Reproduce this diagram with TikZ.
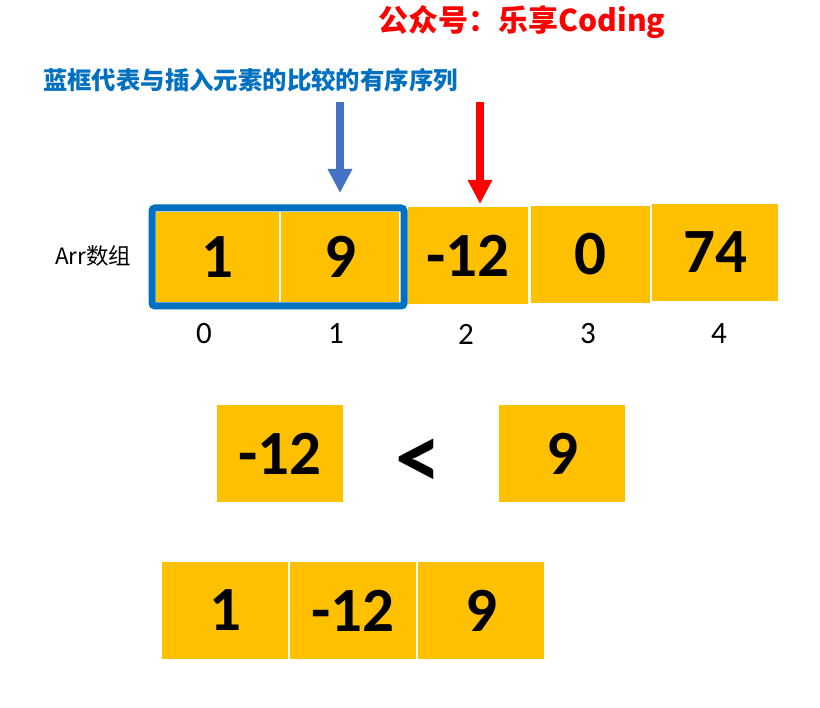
\documentclass[tikz,border=0pt]{standalone}
\usepackage{fontspec}
\setmainfont{Carlito}
\newfontfamily\cjkfont{Noto Sans CJK SC}
\usetikzlibrary{arrows.meta}
\definecolor{gold}{RGB}{255,192,0}
\definecolor{framecol}{RGB}{0,112,192}
\definecolor{arrowblue}{RGB}{68,114,196}
\definecolor{titlered}{RGB}{255,0,0}
\tikzset{
  cell/.style={fill=gold, inner sep=0pt, minimum height=97pt,
    font=\fontsize{63}{63}\selectfont\bfseries, text=black},
  idx/.style={inner sep=0pt, font=\fontsize{31}{31}\selectfont},
  framebox/.style={draw=framecol, line width=7pt, rounded corners=3pt, inner sep=0pt},
  pointer/.style={line width=8pt, -{Triangle[width=23pt,length=24pt]}},
}
\begin{document}
\begin{tikzpicture}[x=1pt,y=-1pt]
\useasboundingbox[fill=white] (0,0) rectangle (820,708);
% title and caption
\node[text=titlered, inner sep=0pt, font=\cjkfont\bfseries\fontsize{30}{30}\selectfont] (title) at (522,22) {公众号：乐享Coding};
\node[text=framecol, inner sep=0pt, anchor=west, font=\cjkfont\bfseries\fontsize{24.4}{24.4}\selectfont] (caption) at (43,80) {蓝框代表与插入元素的比较的有序序列};
% array
\node[inner sep=0pt, anchor=west, font=\cjkfont\fontsize{22.5}{22.5}\selectfont] (arr) at (55,256) {Arr数组};
\node[cell, minimum width=123pt, minimum height=90pt] (c0) at (217.5,257) {1};
\node[cell, minimum width=118pt, minimum height=90pt] (c1) at (340,257) {9};
\node[cell, minimum width=120pt] (c2) at (468,255.5) {-12};
\node[cell, minimum width=119pt] (c3) at (590.5,254.5) {0};
\node[cell, minimum width=126pt] (c4) at (715,252.5) {74};
\node[framebox, minimum width=252pt, minimum height=98pt] (frame) at (278,257) {};
% indices
\node[idx] (i0) at (204,334) {0};
\node[idx] (i1) at (336,334) {1};
\node[idx] (i2) at (466,334) {2};
\node[idx] (i3) at (588,334) {3};
\node[idx] (i4) at (719,334) {4};
% pointers
\coordinate (bs) at (340,102);
\coordinate (bt) at (340,193);
\coordinate (rs) at (480,102);
\coordinate (rt) at (480,204);
\draw[pointer, draw=arrowblue, fill=arrowblue] (bs) -- (bt);
\draw[pointer, draw=titlered, fill=titlered] (rs) -- (rt);
% comparison
\node[cell, minimum width=126pt] (m1) at (280,453.5) {-12};
\node[inner sep=0pt, font=\fontsize{92}{92}\selectfont\bfseries] (lt) at (418,464) {<};
\node[cell, minimum width=126pt] (m2) at (562,453.5) {9};
% result
\node[cell, minimum width=126pt] (r0) at (225,610.5) {1};
\node[cell, minimum width=126pt] (r1) at (353,610.5) {-12};
\node[cell, minimum width=126pt] (r2) at (481,610.5) {9};
\end{tikzpicture}
\end{document}
